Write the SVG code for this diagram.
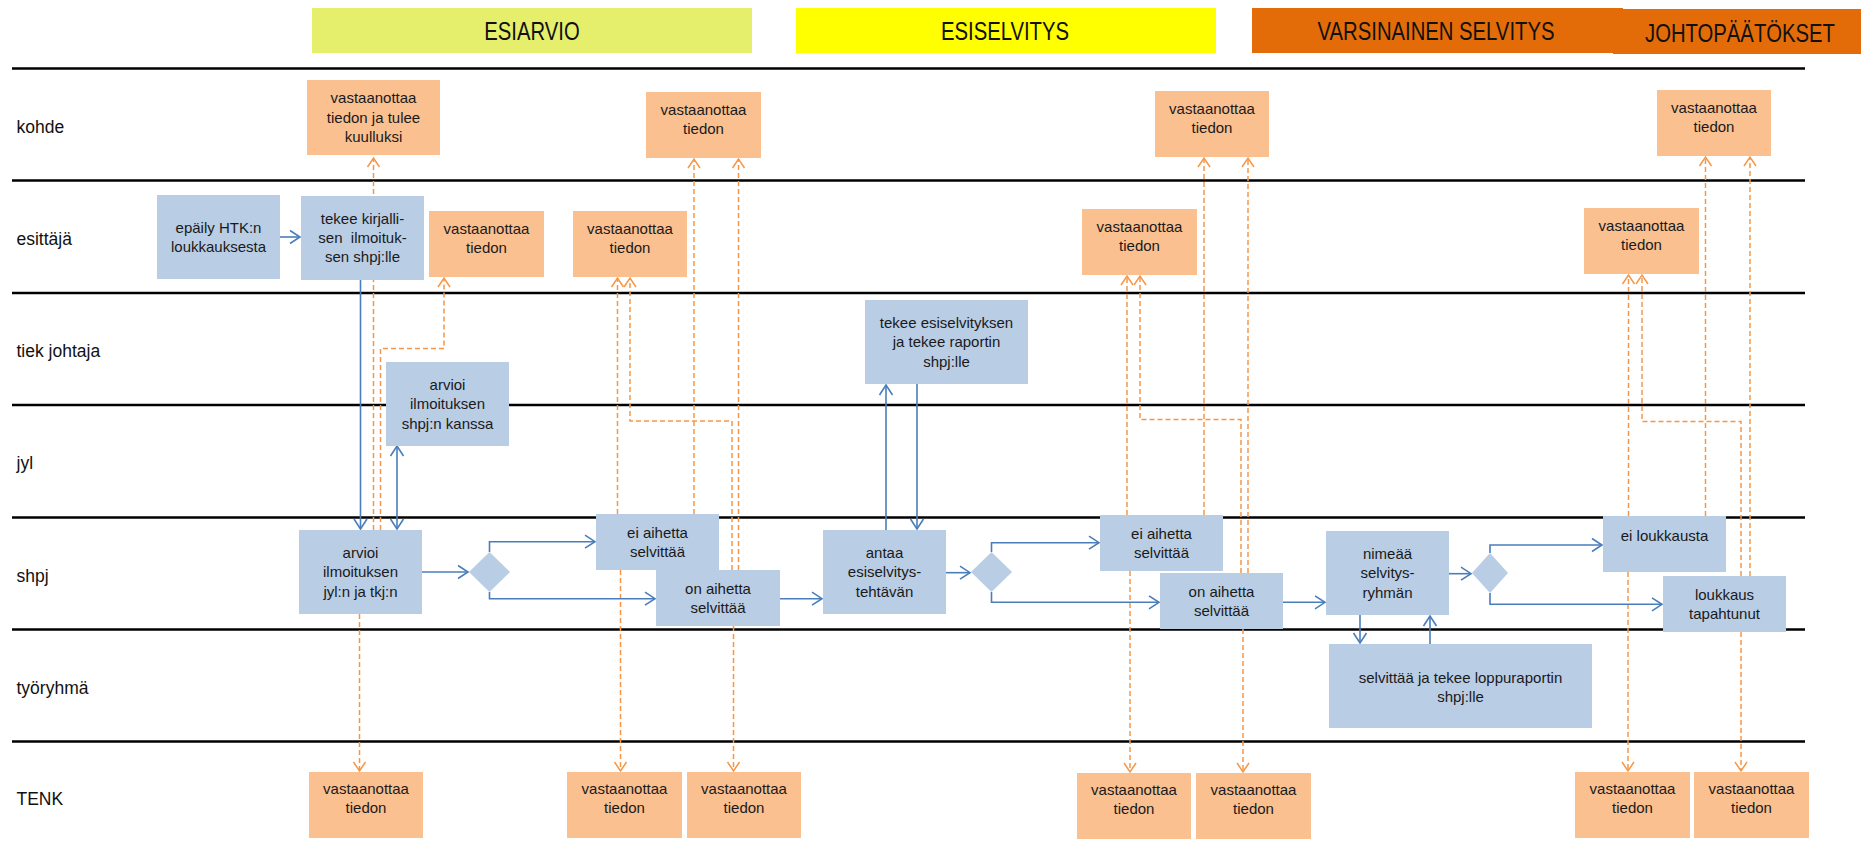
<svg xmlns="http://www.w3.org/2000/svg" width="1861" height="849" viewBox="0 0 1861 849">
<style>
.lane{stroke:#000;stroke-width:2.5;fill:none}
.lbl{font-family:"Liberation Sans",Arial,sans-serif;font-size:17.5px;fill:#111}
.hdr{font-family:"Liberation Sans",Arial,sans-serif;font-size:26px;fill:#111;text-anchor:middle}
.b{fill:#b9cde5}
.o{fill:#fac090}
.t{font-family:"Liberation Sans",Arial,sans-serif;font-size:15px;fill:#1a1a1a;text-anchor:middle}
.dash{stroke:#f79646;stroke-width:1.5;stroke-dasharray:5 3;fill:none;marker-end:url(#oa)}
.bl{stroke:#4a7ebb;stroke-width:1.6;fill:none;marker-end:url(#ba)}
</style>
<defs>
<marker id="oa" markerUnits="userSpaceOnUse" markerWidth="20" markerHeight="20" viewBox="-12 -10 14 20" refX="0" refY="0" orient="auto">
<path d="M-9,-6 L0,0 L-9,6" fill="none" stroke="#f79646" stroke-width="1.5" stroke-dasharray="none"/>
</marker>
<marker id="ba" markerUnits="userSpaceOnUse" markerWidth="20" markerHeight="20" viewBox="-12 -10 14 20" refX="0" refY="0" orient="auto-start-reverse">
<path d="M-10,-6.5 L0,0 L-10,6.5" fill="none" stroke="#4a7ebb" stroke-width="1.6"/>
</marker>
</defs>
<rect width="1861" height="849" fill="#fff"/>

<g id="headers">
<rect x="312" y="8" width="440" height="45" fill="#e5ef6b"/>
<text class="hdr" transform="translate(532,39.5) scale(0.78,1)">ESIARVIO</text>
<rect x="796" y="8" width="420" height="45" fill="#ffff00"/>
<text class="hdr" transform="translate(1005,39.5) scale(0.78,1)">ESISELVITYS</text>
<rect x="1252" y="8" width="371" height="45" fill="#e36c09"/>
<text class="hdr" transform="translate(1436,40) scale(0.78,1)">VARSINAINEN SELVITYS</text>
<rect x="1613" y="9" width="248" height="45" fill="#e36c09"/>
<text class="hdr" transform="translate(1740,41.5) scale(0.78,1)">JOHTOPÄÄTÖKSET</text>
</g>

<g id="lanes">
<line class="lane" x1="12" y1="68.5" x2="1805" y2="68.5"/>
<line class="lane" x1="12" y1="180.5" x2="1805" y2="180.5"/>
<line class="lane" x1="12" y1="293" x2="1805" y2="293"/>
<line class="lane" x1="12" y1="405" x2="1805" y2="405"/>
<line class="lane" x1="12" y1="517.5" x2="1805" y2="517.5"/>
<line class="lane" x1="12" y1="629.5" x2="1805" y2="629.5"/>
<line class="lane" x1="12" y1="741.5" x2="1805" y2="741.5"/>
<text class="lbl" x="16.5" y="132.5">kohde</text>
<text class="lbl" x="16.5" y="244.5">esittäjä</text>
<text class="lbl" x="16.5" y="357">tiek johtaja</text>
<text class="lbl" x="16.5" y="469">jyl</text>
<text class="lbl" x="16.5" y="581.5">shpj</text>
<text class="lbl" x="16.5" y="693.5">työryhmä</text>
<text class="lbl" x="16.5" y="805">TENK</text>
</g>

<g id="connectors">
<path class="dash" d="M373.5,530 V158"/>
<path class="dash" d="M380.5,530 V348.5 H444 V278"/>
<path class="dash" d="M359.5,614 V771"/>
<path class="dash" d="M617.5,514 V278"/>
<path class="dash" d="M732,570 V421 H630 V278"/>
<path class="dash" d="M694,514 V159"/>
<path class="dash" d="M738.5,570 V159"/>
<path class="dash" d="M620.5,570 V771"/>
<path class="dash" d="M733.5,626 V771"/>
<path class="dash" d="M1127,515 V276"/>
<path class="dash" d="M1241,573 V419.5 H1140 V276"/>
<path class="dash" d="M1204,515 V158"/>
<path class="dash" d="M1248,573 V158"/>
<path class="dash" d="M1130,571 V772"/>
<path class="dash" d="M1243,629 V772"/>
<path class="dash" d="M1628.5,516 V275"/>
<path class="dash" d="M1741,576 V421.5 H1642 V275"/>
<path class="dash" d="M1705.5,516 V157"/>
<path class="dash" d="M1750,576 V157"/>
<path class="dash" d="M1628,572 V771"/>
<path class="dash" d="M1741,632 V771"/>

<path class="bl" d="M280,237 H300"/>
<path class="bl" d="M360.5,280 V529"/>
<path class="bl" d="M397,446 V529" marker-start="url(#ba)"/>
<path class="bl" d="M422,572 H468"/>
<path class="bl" d="M489.5,552 V541.7 H595"/>
<path class="bl" d="M489.5,592 V598.7 H655"/>
<path class="bl" d="M780,598.7 H822"/>
<path class="bl" d="M886,530 V385"/>
<path class="bl" d="M917,384 V529"/>
<path class="bl" d="M946,572.7 H970"/>
<path class="bl" d="M991.5,552 V542.7 H1099"/>
<path class="bl" d="M991.5,592 V602.3 H1159"/>
<path class="bl" d="M1283,602.3 H1325"/>
<path class="bl" d="M1449,573.7 H1471"/>
<path class="bl" d="M1490,553 V545 H1602"/>
<path class="bl" d="M1490,593 V604.3 H1662"/>
<path class="bl" d="M1360,615 V643"/>
<path class="bl" d="M1430,644 V616"/>
</g>

<g id="n-epaily"><rect class="b" x="157" y="195" width="123" height="84"/>
<text class="t" x="218.5" y="232.7"><tspan x="218.5">epäily HTK:n</tspan><tspan x="218.5" dy="19.3">loukkauksesta</tspan></text></g>
<g id="n-tekee-kirjallisen"><rect class="b" x="301" y="196" width="123" height="84"/>
<text class="t" x="362.5" y="223.5"><tspan x="362.5">tekee kirjalli-</tspan><tspan x="362.5" dy="19.3">sen&#160; ilmoituk-</tspan><tspan x="362.5" dy="19.3">sen shpj:lle</tspan></text></g>
<g id="n-arvioi-jyl"><rect class="b" x="386" y="362" width="123" height="84"/>
<text class="t" x="447.5" y="390"><tspan x="447.5">arvioi</tspan><tspan x="447.5" dy="19.3">ilmoituksen</tspan><tspan x="447.5" dy="19.3">shpj:n kanssa</tspan></text></g>
<g id="n-arvioi-shpj"><rect class="b" x="299" y="530" width="123" height="84"/>
<text class="t" x="360.5" y="558"><tspan x="360.5">arvioi</tspan><tspan x="360.5" dy="19.3">ilmoituksen</tspan><tspan x="360.5" dy="19.3">jyl:n ja tkj:n</tspan></text></g>
<g id="n-d1"><polygon class="b" points="469,572 489.5,552 510,572 489.5,592"/></g>
<g id="n-ei-aihetta-1"><rect class="b" x="596" y="514" width="123" height="56"/>
<text class="t" x="657.5" y="537.7"><tspan x="657.5">ei aihetta</tspan><tspan x="657.5" dy="19.3">selvittää</tspan></text></g>
<g id="n-on-aihetta-1"><rect class="b" x="656" y="570" width="124" height="56"/>
<text class="t" x="718" y="593.7"><tspan x="718">on aihetta</tspan><tspan x="718" dy="19.3">selvittää</tspan></text></g>
<g id="n-tekee-esiselvityksen"><rect class="b" x="865" y="300" width="163" height="84"/>
<text class="t" x="946.5" y="328"><tspan x="946.5">tekee esiselvityksen</tspan><tspan x="946.5" dy="19.3">ja tekee raportin</tspan><tspan x="946.5" dy="19.3">shpj:lle</tspan></text></g>
<g id="n-antaa"><rect class="b" x="823" y="530" width="123" height="84"/>
<text class="t" x="884.5" y="558"><tspan x="884.5">antaa</tspan><tspan x="884.5" dy="19.3">esiselvitys-</tspan><tspan x="884.5" dy="19.3">tehtävän</tspan></text></g>
<g id="n-d2"><polygon class="b" points="971,572 991.5,552 1012,572 991.5,592"/></g>
<g id="n-ei-aihetta-2"><rect class="b" x="1100" y="515" width="123" height="56"/>
<text class="t" x="1161.5" y="538.7"><tspan x="1161.5">ei aihetta</tspan><tspan x="1161.5" dy="19.3">selvittää</tspan></text></g>
<g id="n-on-aihetta-2"><rect class="b" x="1160" y="573" width="123" height="56"/>
<text class="t" x="1221.5" y="596.7"><tspan x="1221.5">on aihetta</tspan><tspan x="1221.5" dy="19.3">selvittää</tspan></text></g>
<g id="n-nimeaa"><rect class="b" x="1326" y="531" width="123" height="84"/>
<text class="t" x="1387.5" y="559"><tspan x="1387.5">nimeää</tspan><tspan x="1387.5" dy="19.3">selvitys-</tspan><tspan x="1387.5" dy="19.3">ryhmän</tspan></text></g>
<g id="n-d3"><polygon class="b" points="1472,573 1490,553 1508,573 1490,593"/></g>
<g id="n-ei-loukkausta"><rect class="b" x="1603" y="516" width="123" height="56"/>
<text class="t" x="1664.5" y="540.5">ei loukkausta</text></g>
<g id="n-loukkaus"><rect class="b" x="1663" y="576" width="123" height="56"/>
<text class="t" x="1724.5" y="599.7"><tspan x="1724.5">loukkaus</tspan><tspan x="1724.5" dy="19.3">tapahtunut</tspan></text></g>
<g id="n-selvittaa"><rect class="b" x="1329" y="644" width="263" height="84"/>
<text class="t" x="1460.5" y="682.5"><tspan x="1460.5">selvittää ja tekee loppuraportin</tspan><tspan x="1460.5" dy="19.3">shpj:lle</tspan></text></g>

<g id="n-kohde-1"><rect class="o" x="307" y="80" width="133" height="75"/>
<text class="t" x="373.5" y="103.3"><tspan x="373.5">vastaanottaa</tspan><tspan x="373.5" dy="19.3">tiedon ja tulee</tspan><tspan x="373.5" dy="19.3">kuulluksi</tspan></text></g>
<g id="n-kohde-2"><rect class="o" x="646" y="92" width="115" height="66"/>
<text class="t" x="703.5" y="115"><tspan x="703.5">vastaanottaa</tspan><tspan x="703.5" dy="19.3">tiedon</tspan></text></g>
<g id="n-kohde-3"><rect class="o" x="1155" y="91" width="114" height="66"/>
<text class="t" x="1212" y="114"><tspan x="1212">vastaanottaa</tspan><tspan x="1212" dy="19.3">tiedon</tspan></text></g>
<g id="n-kohde-4"><rect class="o" x="1657" y="90" width="114" height="66"/>
<text class="t" x="1714" y="113"><tspan x="1714">vastaanottaa</tspan><tspan x="1714" dy="19.3">tiedon</tspan></text></g>

<g id="n-esittaja-1"><rect class="o" x="429" y="211" width="115" height="66"/>
<text class="t" x="486.5" y="233.5"><tspan x="486.5">vastaanottaa</tspan><tspan x="486.5" dy="19.3">tiedon</tspan></text></g>
<g id="n-esittaja-2"><rect class="o" x="573" y="211" width="114" height="66"/>
<text class="t" x="630" y="233.5"><tspan x="630">vastaanottaa</tspan><tspan x="630" dy="19.3">tiedon</tspan></text></g>
<g id="n-esittaja-3"><rect class="o" x="1082" y="209" width="115" height="66"/>
<text class="t" x="1139.5" y="231.5"><tspan x="1139.5">vastaanottaa</tspan><tspan x="1139.5" dy="19.3">tiedon</tspan></text></g>
<g id="n-esittaja-4"><rect class="o" x="1584" y="208" width="115" height="66"/>
<text class="t" x="1641.5" y="230.5"><tspan x="1641.5">vastaanottaa</tspan><tspan x="1641.5" dy="19.3">tiedon</tspan></text></g>

<g id="n-tenk-1"><rect class="o" x="309" y="772" width="114" height="66"/>
<text class="t" x="366" y="794"><tspan x="366">vastaanottaa</tspan><tspan x="366" dy="19.3">tiedon</tspan></text></g>
<g id="n-tenk-2"><rect class="o" x="567" y="772" width="115" height="66"/>
<text class="t" x="624.5" y="794"><tspan x="624.5">vastaanottaa</tspan><tspan x="624.5" dy="19.3">tiedon</tspan></text></g>
<g id="n-tenk-3"><rect class="o" x="687" y="772" width="114" height="66"/>
<text class="t" x="744" y="794"><tspan x="744">vastaanottaa</tspan><tspan x="744" dy="19.3">tiedon</tspan></text></g>
<g id="n-tenk-4"><rect class="o" x="1077" y="773" width="114" height="66"/>
<text class="t" x="1134" y="795"><tspan x="1134">vastaanottaa</tspan><tspan x="1134" dy="19.3">tiedon</tspan></text></g>
<g id="n-tenk-5"><rect class="o" x="1196" y="773" width="115" height="66"/>
<text class="t" x="1253.5" y="795"><tspan x="1253.5">vastaanottaa</tspan><tspan x="1253.5" dy="19.3">tiedon</tspan></text></g>
<g id="n-tenk-6"><rect class="o" x="1575" y="772" width="115" height="66"/>
<text class="t" x="1632.5" y="794"><tspan x="1632.5">vastaanottaa</tspan><tspan x="1632.5" dy="19.3">tiedon</tspan></text></g>
<g id="n-tenk-7"><rect class="o" x="1694" y="772" width="115" height="66"/>
<text class="t" x="1751.5" y="794"><tspan x="1751.5">vastaanottaa</tspan><tspan x="1751.5" dy="19.3">tiedon</tspan></text></g>
</svg>
